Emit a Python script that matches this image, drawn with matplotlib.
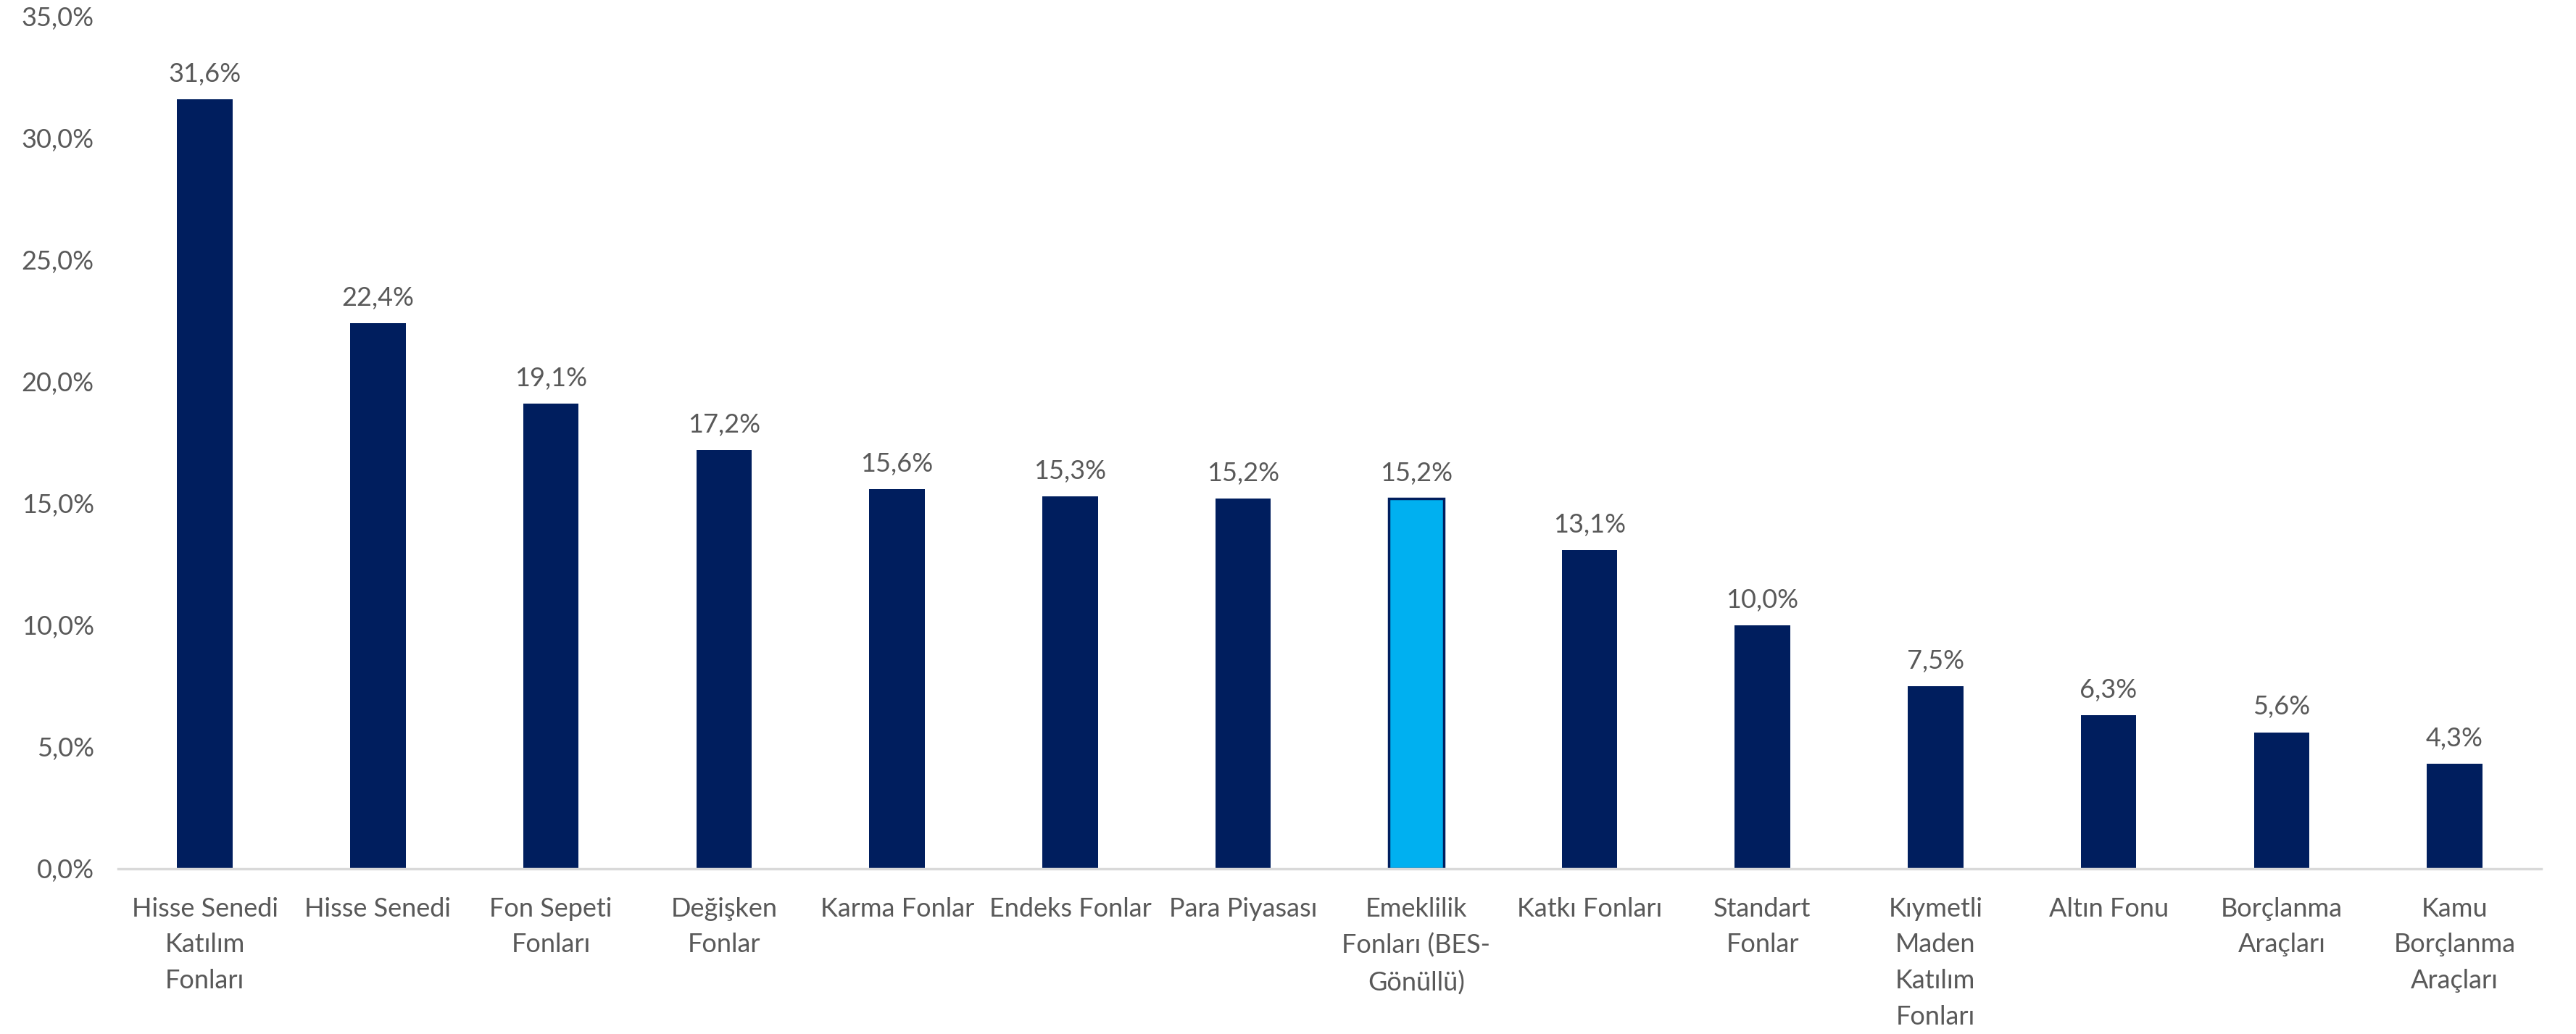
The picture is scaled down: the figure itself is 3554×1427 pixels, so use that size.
import numpy as np
import matplotlib
matplotlib.use('Agg')
import matplotlib.pyplot as plt
from matplotlib.ticker import FuncFormatter

# fon kategorileri ve getiriler (%)
categories = [
    "Hisse Senedi\nKatılım\nFonları",
    "Hisse Senedi",
    "Fon Sepeti\nFonları",
    "Değişken\nFonlar",
    "Karma Fonlar",
    "Endeks Fonlar",
    "Para Piyasası",
    "Emeklilik\nFonları (BES-\nGönüllü)",
    "Katkı Fonları",
    "Standart\nFonlar",
    "Kıymetli\nMaden\nKatılım\nFonları",
    "Altın Fonu",
    "Borçlanma\nAraçları",
    "Kamu\nBorçlanma\nAraçları",
]
values = [31.6, 22.4, 19.1, 17.2, 15.6, 15.3, 15.2, 15.2, 13.1, 10.0, 7.5, 6.3, 5.6, 4.3]
highlight = "Emeklilik\nFonları (BES-\nGönüllü)"
yticks = [0, 5, 10, 15, 20, 25, 30, 35]

navy = '#001E5E'
light = '#00B0F0'
grey_txt = '#595959'

plt.rcParams['font.family'] = ['Lato', 'DejaVu Sans']

fig = plt.figure(figsize=(35.54, 14.27), dpi=100)
ax = fig.add_axes([0.0459, 0.160, 0.9406, 0.824])

x = np.arange(len(categories))
colors = [light if c == highlight else navy for c in categories]
lws = [2.5 if c == highlight else 0 for c in categories]
bars = ax.bar(x, values, width=0.32, color=colors, edgecolor=navy, linewidth=lws, zorder=3)

def fmt(v):
    return ("%.1f%%" % v).replace('.', ',')

for b, v in zip(bars, values):
    ax.annotate(fmt(v), (b.get_x() + b.get_width() / 2, b.get_height()),
                xytext=(0, 13), textcoords='offset points',
                ha='center', va='bottom', fontsize=26, color=grey_txt)

ax.set_xlim(-0.5, len(categories) - 0.5)
ax.set_ylim(0, 35)
ax.set_yticks(yticks)
ax.yaxis.set_major_formatter(FuncFormatter(lambda v, p: fmt(v)))
ax.set_xticks(x)
ax.set_xticklabels(categories, linespacing=1.62)

ax.tick_params(axis='y', length=0, pad=24, labelsize=26, labelcolor=grey_txt)
ax.tick_params(axis='x', length=0, pad=28, labelsize=26, labelcolor=grey_txt)

for side in ['top', 'right', 'left']:
    ax.spines[side].set_visible(False)
ax.spines['bottom'].set_color('#D9D9D9')
ax.spines['bottom'].set_linewidth(2.5)
ax.spines['bottom'].set_zorder(4)

fig.savefig('out.png', dpi=100)
